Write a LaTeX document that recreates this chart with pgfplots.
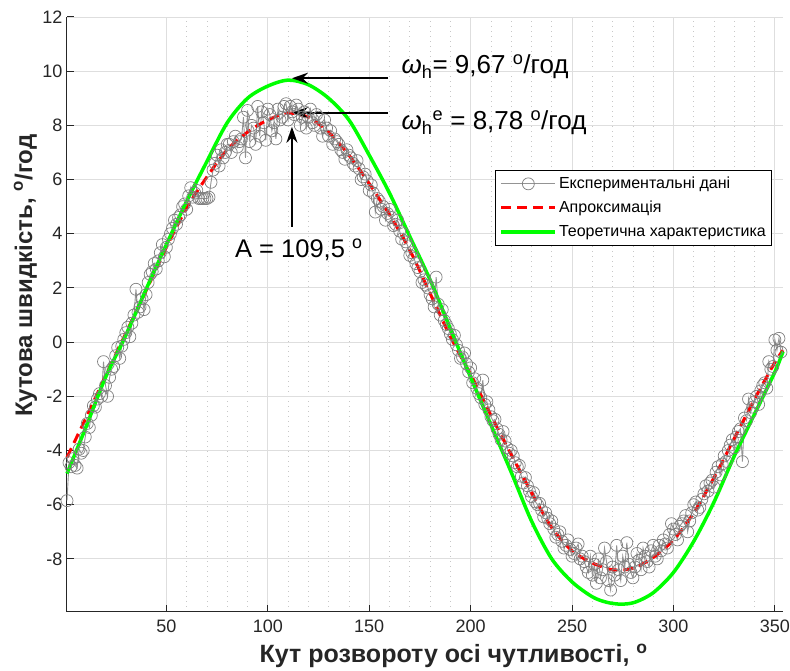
\documentclass[border=0pt]{standalone}
\usepackage{pgfplots}
\pgfplotsset{compat=1.18}
\usepackage{fontspec}
\setmainfont{Liberation Sans}
\usetikzlibrary{arrows.meta}
\definecolor{axgray}{HTML}{262626}
\definecolor{expgray}{HTML}{7F7F7F}
\definecolor{mgreen}{HTML}{00FF00}
\begin{document}
\begin{tikzpicture}
\path[use as bounding box] (-67pt,-59pt) rectangle (723pt,612pt);
\begin{axis}[
  at={(0pt,0pt)}, anchor=south west,
  scale only axis, width=716pt, height=595pt,
  xmin=1, xmax=354, ymin=-9.96, ymax=12,
  xtick={50,100,...,350}, ytick={-8,-6,...,12},
  minor x tick num=4,
  axis x line*=bottom, axis y line*=left,
  axis line style={axgray, line width=1pt, -},
  tick style={axgray, line width=1pt},
  major tick length=7pt, minor tick length=0pt,
  tick align=inside,
  grid=major,
  major grid style={line width=0.9pt, color=black!13},
  minor x grid style={line width=0.8pt, color=black!22, dash pattern=on 1pt off 4pt},
  xminorgrids=true,
  /pgf/number format/assume math mode=true,
  ticklabel style={font=\fontsize{18}{21}\selectfont, text=axgray},
  xticklabel style={yshift=-4pt},
  yticklabel style={xshift=-1pt},
  xlabel={\textbf{Кут розвороту осі чутливості, \textsuperscript{o}}},
  ylabel={\textbf{Кутова швидкість, \textsuperscript{o}/год}},
  xlabel style={font=\fontsize{25}{29}\selectfont, text=axgray, at={(axis description cs:0.54,-0.074)}, anchor=center},
  ylabel style={font=\fontsize{24}{28}\selectfont, text=axgray, at={(axis description cs:-0.058,0.565)}, anchor=center},
  clip=false,
  legend style={at={(axis description cs:0.598,0.743)}, anchor=north west,
    font=\fontsize{16}{19}\selectfont, draw=black, line width=0.8pt,
    fill=white, inner xsep=4pt, inner ysep=5pt, row sep=7pt},
  legend cell align=left,
  legend image code/.code={\draw[mark repeat=2,mark phase=2,#1] plot coordinates {(0pt,0pt) (27pt,0pt) (54pt,0pt)};},
]
\addplot[color=black!42, line width=0.9pt, mark=o, mark size=6pt, mark options={solid, expgray, line width=0.7pt}] coordinates {
(1,-5.85)(2,-4.45)(3,-4.6)(4,-4.3)(5,-4.55)(6,-4.65)(7,-3.95)(8,-4.1)(9,-4.0)(10,-3.5)
(11,-3.0)(12,-3.15)(13,-2.7)(14,-2.35)(15,-2.4)(16,-2.1)(17,-1.9)(18,-2.0)(19,-0.72)(20,-1.6)
(21,-2.0)(22,-1.3)(23,-1.0)(24,-0.9)(25,-0.5)(26,-0.2)(27,-0.6)(28,-0.15)(29,0.1)(30,0.35)
(31,0.55)(32,0.2)(33,0.7)(34,1.0)(35,1.95)(36,1.1)(37,1.3)(38,1.6)(39,1.2)(40,1.75)
(41,2.2)(42,2.5)(43,2.6)(44,2.9)(45,2.7)(46,3.0)(47,3.3)(48,3.6)(49,3.15)(50,3.5)
(51,3.8)(52,4.0)(53,4.2)(54,4.5)(55,4.35)(56,4.6)(57,4.7)(58,5.0)(59,5.1)(60,4.9)
(61,5.4)(62,5.7)(63,5.35)(64,5.5)(65,5.6)(66,5.3)(67,5.3)(68,5.3)(69,5.3)(70,5.3)
(71,5.35)(72,5.9)(73,6.35)(74,6.6)(75,6.9)(76,6.5)(77,7.1)(78,6.8)(79,7.0)(80,7.3)
(81,7.3)(82,7.0)(83,7.4)(84,7.6)(85,7.2)(86,7.4)(87,7.5)(88,8.3)(89,6.8)(90,8.55)
(91,7.4)(92,8.0)(93,7.9)(94,7.3)(95,8.7)(96,7.6)(97,8.5)(98,8.1)(99,7.45)(100,8.6)
(101,8.4)(102,7.8)(103,8.1)(104,7.5)(105,8.6)(106,8.2)(107,8.3)(108,8.7)(109,8.8)(110,8.2)
(111,8.7)(112,8.5)(113,8.4)(114,8.75)(115,8.6)(116,8.0)(117,8.3)(118,8.5)(119,7.9)(120,8.3)
(121,8.6)(122,8.1)(123,8.0)(124,8.4)(125,8.3)(126,7.9)(127,7.6)(128,8.2)(129,7.9)(130,7.6)
(131,7.8)(132,7.3)(133,7.5)(134,7.4)(135,7.3)(136,7.1)(137,7.0)(138,6.75)(139,7.1)(140,6.9)
(141,6.8)(142,6.6)(143,6.5)(144,6.7)(145,6.4)(146,6.0)(147,6.1)(148,6.2)(149,5.95)(150,5.6)
(151,5.8)(152,5.5)(153,4.8)(154,5.3)(155,5.2)(156,4.9)(157,5.0)(158,4.5)(159,4.75)(160,4.9)
(161,4.6)(162,4.3)(163,4.35)(164,4.5)(165,4.1)(166,3.8)(167,4.0)(168,3.7)(169,3.55)(170,3.2)
(171,3.3)(172,3.1)(173,2.9)(174,2.75)(175,2.6)(176,2.2)(177,2.3)(178,2.1)(179,2.0)(180,1.75)
(181,1.6)(182,1.3)(183,2.4)(184,1.4)(185,1.0)(186,1.2)(187,0.8)(188,0.65)(189,0.5)(190,0.3)
(191,0.1)(192,0.25)(193,-0.1)(194,-0.3)(195,-0.6)(196,-0.55)(197,-0.4)(198,-0.8)(199,-1.1)(200,-0.95)
(201,-1.5)(202,-1.35)(203,-1.7)(204,-1.9)(205,-2.05)(206,-1.4)(207,-2.3)(208,-2.2)(209,-2.5)(210,-2.75)
(211,-2.9)(212,-2.85)(213,-3.2)(214,-3.4)(215,-3.6)(216,-3.3)(217,-3.65)(218,-3.9)(219,-4.1)(220,-4.0)
(221,-4.2)(222,-4.45)(223,-4.6)(224,-4.55)(225,-4.95)(226,-5.2)(227,-5.0)(228,-5.3)(229,-5.5)(230,-5.7)
(231,-5.55)(232,-5.9)(233,-6.0)(234,-5.95)(235,-6.2)(236,-6.45)(237,-6.3)(238,-6.5)(239,-6.7)(240,-6.6)
(241,-6.9)(242,-7.2)(243,-7.1)(244,-7.0)(245,-7.35)(246,-7.6)(247,-7.5)(248,-7.3)(249,-7.65)(250,-7.9)
(251,-7.8)(252,-7.6)(253,-7.45)(254,-8.0)(255,-7.9)(256,-8.1)(257,-8.3)(258,-8.5)(259,-7.9)(260,-8.6)
(261,-8.2)(262,-8.9)(263,-8.0)(264,-8.7)(265,-8.4)(266,-7.6)(267,-8.1)(268,-8.8)(269,-9.15)(270,-8.3)
(271,-8.6)(272,-7.5)(273,-8.4)(274,-8.8)(275,-7.9)(276,-8.3)(277,-7.4)(278,-8.2)(279,-8.5)(280,-8.7)
(281,-8.3)(282,-7.8)(283,-8.05)(284,-8.4)(285,-7.6)(286,-7.9)(287,-8.1)(288,-8.3)(289,-7.7)(290,-7.5)
(291,-7.9)(292,-8.0)(293,-7.5)(294,-7.7)(295,-7.3)(296,-7.45)(297,-7.6)(298,-7.1)(299,-6.7)(300,-6.9)
(301,-7.1)(302,-7.3)(303,-6.8)(304,-6.7)(305,-6.6)(306,-6.4)(307,-7.0)(308,-6.6)(309,-6.3)(310,-6.0)
(311,-5.9)(312,-6.2)(313,-6.1)(314,-5.8)(315,-5.6)(316,-5.3)(317,-5.5)(318,-5.2)(319,-5.1)(320,-5.35)
(321,-4.8)(322,-4.6)(323,-4.9)(324,-4.5)(325,-4.2)(326,-4.4)(327,-4.0)(328,-3.8)(329,-3.6)(330,-3.9)
(331,-3.5)(332,-3.3)(333,-3.2)(334,-4.41)(335,-2.8)(336,-2.9)(337,-2.1)(338,-2.6)(339,-2.4)(340,-2.2)
(341,-2.0)(342,-2.3)(343,-1.8)(344,-1.6)(345,-1.5)(346,-1.7)(347,-0.72)(348,-1.0)(349,-0.9)(350,0.08)
(351,-0.3)(352,0.14)(353,-0.37)
};
\addlegendentry{Експериментальні дані}
\addplot[color=red, line width=3pt, dash pattern=on 10pt off 6pt, smooth] coordinates {
(1,-4.25)(10,-2.85)(20,-1.25)(30,0.33)(40,1.9)(50,3.5)(60,4.95)(70,6.1)(80,7.1)(90,7.75)
(100,8.2)(110,8.45)(120,8.3)(130,7.75)(140,6.9)(150,5.85)(160,4.7)(170,3.4)(180,1.8)(190,0.2)
(200,-1.2)(210,-2.7)(220,-4.15)(230,-5.55)(240,-6.85)(250,-7.7)(260,-8.15)(270,-8.4)(280,-8.35)(290,-7.95)
(300,-7.3)(310,-6.3)(320,-5.0)(330,-3.55)(340,-2.1)(350,-0.75)(354,-0.3)
};
\addlegendentry{Апроксимація}
\addplot[color=mgreen, line width=3.5pt, smooth] coordinates {
(1,-4.85)(10,-3.2)(20,-1.3)(30,0.25)(40,1.95)(50,3.6)(60,5.2)(70,6.67)(80,8.1)(90,9.0)
(100,9.45)(110,9.67)(120,9.5)(130,9.0)(140,8.2)(150,6.9)(160,5.5)(170,3.9)(180,2.3)(190,0.5)
(200,-1.3)(210,-3.05)(220,-4.8)(230,-6.6)(240,-8.0)(250,-8.85)(260,-9.4)(267,-9.6)(274,-9.67)(281,-9.6)
(290,-9.25)(300,-8.5)(310,-7.35)(320,-5.9)(330,-4.2)(340,-2.65)(350,-1.1)(354,-0.35)
};
\addlegendentry{Теоретична характеристика}
\draw[black, line width=2pt, -{Stealth[length=16pt,width=11pt]}] (axis cs:159.2,9.74) -- (axis cs:111.9,9.74);
\draw[black, line width=2pt, -{Stealth[length=16pt,width=11pt]}] (axis cs:159.2,8.47) -- (axis cs:111.9,8.47);
\draw[black, line width=2pt, -{Stealth[length=16pt,width=11pt]}] (axis cs:111.9,4.26) -- (axis cs:111.9,7.95);
\node[anchor=base west, font=\fontsize{26}{30}\selectfont, inner sep=0pt] at (axis cs:165.9,9.9) {{\itshape ω}\textsubscript{h}= 9,67 \textsuperscript{o}/год};
\node[anchor=base west, font=\fontsize{26}{30}\selectfont, inner sep=0pt] at (axis cs:165.9,7.83) {{\itshape ω}\textsubscript{h}\textsuperscript{e} = 8,78 \textsuperscript{o}/год};
\node[anchor=base, font=\fontsize{25.5}{30}\selectfont, inner sep=0pt] at (axis cs:115.3,3.14) {A = 109,5 \textsuperscript{o}};
\end{axis}
\end{tikzpicture}
\end{document}
